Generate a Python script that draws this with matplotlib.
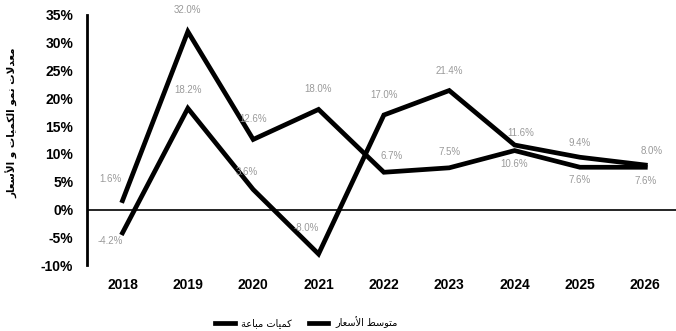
import matplotlib
matplotlib.use("Agg")
import matplotlib.pyplot as plt
from matplotlib.lines import Line2D

years = ["2018", "2019", "2020", "2021", "2022", "2023", "2024", "2025", "2026"]
kamiyat = [1.6, 32.0, 12.6, 18.0, 6.7, 7.5, 10.6, 7.6, 7.6]       # كميات مباعة
asaar = [-4.2, 18.2, 3.6, -8.0, 17.0, 21.4, 11.6, 9.4, 8.0]        # متوسط الأسعار
yticks = [-10, -5, 0, 5, 10, 15, 20, 25, 30, 35]

# formes contextuelles arabes (isolée, finale, initiale, médiane)
FORMES = {
    'ا': ('\uFE8D', '\uFE8E'), 'أ': ('\uFE83', '\uFE84'),
    'ب': ('\uFE8F', '\uFE90', '\uFE91', '\uFE92'), 'ة': ('\uFE93', '\uFE94'),
    'ت': ('\uFE95', '\uFE96', '\uFE97', '\uFE98'), 'د': ('\uFEA9', '\uFEAA'),
    'ر': ('\uFEAD', '\uFEAE'), 'س': ('\uFEB1', '\uFEB2', '\uFEB3', '\uFEB4'),
    'ط': ('\uFEC1', '\uFEC2', '\uFEC3', '\uFEC4'), 'ع': ('\uFEC9', '\uFECA', '\uFECB', '\uFECC'),
    'ك': ('\uFED9', '\uFEDA', '\uFEDB', '\uFEDC'), 'ل': ('\uFEDD', '\uFEDE', '\uFEDF', '\uFEE0'),
    'م': ('\uFEE1', '\uFEE2', '\uFEE3', '\uFEE4'), 'ن': ('\uFEE5', '\uFEE6', '\uFEE7', '\uFEE8'),
    'ه': ('\uFEE9', '\uFEEA', '\uFEEB', '\uFEEC'), 'و': ('\uFEED', '\uFEEE'),
    'ي': ('\uFEF1', '\uFEF2', '\uFEF3', '\uFEF4'),
    '\u0001': ('\uFEFB', '\uFEFC'), '\u0002': ('\uFEF7', '\uFEF8'),
}


def arabe(txt):
    txt = txt.replace('لأ', '\u0002').replace('لا', '\u0001')
    out = []
    for i, c in enumerate(txt):
        f = FORMES.get(c)
        if f is None:
            out.append(c)
            continue
        prev = txt[i - 1] if i > 0 else ''
        nxt = txt[i + 1] if i + 1 < len(txt) else ''
        avant = prev in FORMES and len(FORMES[prev]) == 4
        apres = len(f) == 4 and nxt in FORMES
        if avant and apres:
            out.append(f[3])
        elif avant:
            out.append(f[1])
        elif apres:
            out.append(f[2])
        else:
            out.append(f[0])
    return ''.join(reversed(out))


plt.rcParams['font.family'] = ['Liberation Sans', 'DejaVu Sans']

fig = plt.figure(figsize=(6.76, 3.31), dpi=100)
ax = fig.add_axes([0.129, 0.199, 0.871, 0.756])

x = list(range(len(years)))
ax.plot(x, kamiyat, color='black', lw=3.4, solid_joinstyle='miter')
ax.plot(x, asaar, color='black', lw=3.4, solid_joinstyle='miter')
ax.axhline(0, color='black', lw=1.2)

# étiquettes de valeurs (dessus / dessous)
lbl = dict(fontsize=7, color='#9a9a9a', ha='center', va='center')
dk = [(-12, 22), (0, 22), (0, 20), (0, 20), (8, 16), (0, 16), (0, -13), (0, -13), (0, -14)]
da = [(-12, -8), (0, 18), (-6, 18), (-12, 26), (0, 20), (0, 20), (6, 12), (0, 14), (6, 14)]
for i in x:
    ax.annotate(f"{kamiyat[i]:.1f}%", (i, kamiyat[i]), xytext=dk[i],
                textcoords='offset pixels', **lbl)
    ax.annotate(f"{asaar[i]:.1f}%", (i, asaar[i]), xytext=da[i],
                textcoords='offset pixels', **lbl)

ax.set_xlim(-0.54, 8.47)
ax.set_ylim(-10, 35)
ax.set_xticks(x)
ax.set_xticklabels(years)
ax.set_yticks(yticks)
ax.set_yticklabels([f"{t}%" for t in yticks])
ax.tick_params(length=0, labelsize=10)
ax.tick_params(axis='x', pad=9)
ax.tick_params(axis='y', pad=10)
for t in ax.get_xticklabels() + ax.get_yticklabels():
    t.set_fontweight('bold')
for s in ['top', 'right', 'bottom']:
    ax.spines[s].set_visible(False)
ax.spines['left'].set_linewidth(2)

fig.text(0.018, 0.63, arabe('معدلات نمو الكميات و الأسعار'), rotation=90,
         ha='center', va='center', fontsize=7.5, fontweight='bold',
         family=['DejaVu Sans'])

poignees = [Line2D([], [], color='black', lw=3.4), Line2D([], [], color='black', lw=3.4)]
fig.legend(poignees, [arabe('كميات مباعة'), arabe('متوسط الأسعار')],
           loc='center', bbox_to_anchor=(0.453, 0.027), ncol=2, frameon=False,
           handlelength=2.0, handletextpad=0.7, columnspacing=1.7,
           prop={'family': 'DejaVu Sans', 'size': 7})

fig.savefig("out.png", dpi=100)
